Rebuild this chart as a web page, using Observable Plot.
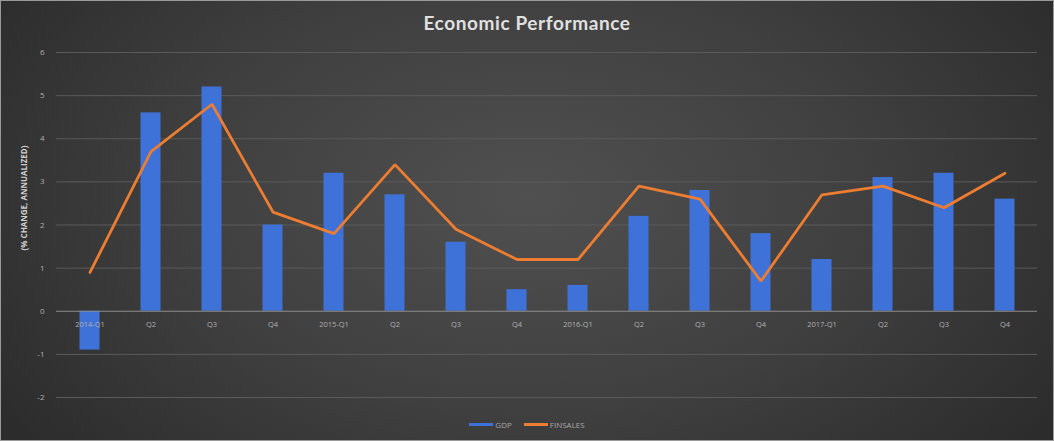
<!DOCTYPE html>
<html>
<head>
<meta charset="utf-8">
<script src="https://cdn.jsdelivr.net/npm/d3@7"></script>
<script src="https://cdn.jsdelivr.net/npm/@observablehq/plot@0.6"></script>
<style>
  html, body { margin: 0; padding: 0; background: #2b2b2b; }
  #chart {
    position: relative; width: 1054px; height: 441px; box-sizing: border-box;
    border: 1px solid #9a9a9a;
    background: radial-gradient(ellipse 60% 90% at 50% 45%, #505050 0%, #3f3f3f 55%, #2c2c2c 100%);
    font-family: "Open Sans", sans-serif; overflow: hidden;
  }
  #title {
    height: 36px; line-height: 44px; text-align: center; color: #e0e0e0;
    font-family: Lato, sans-serif; font-weight: bold; font-size: 19px; letter-spacing: 0.6px;
  }
  #ylabel {
    position: absolute; left: 22px; top: 197px; color: #cfcfcf; font-size: 8px; font-weight: bold;
    transform: translate(-50%, -50%) rotate(-90deg); white-space: nowrap;
  }
  #legend {
    height: 35px; display: flex; justify-content: center; align-items: center; gap: 12px;
    color: #a8a8a8; font-size: 8px;
  }
  .item { display: flex; align-items: center; gap: 2px; }
  .sw { width: 24px; height: 3px; display: inline-block; }
  svg { display: block; }
</style>
</head>
<body>
<div id="chart">
  <div id="title">Economic Performance</div>
  <div id="ylabel">(% CHANGE, ANNUALIZED)</div>
  <div id="plot"></div>
  <div id="legend"></div>
</div>
<script>
const quarters = ["2014-Q1","Q2","Q3","Q4","2015-Q1","Q2","Q3","Q4","2016-Q1","Q2","Q3","Q4","2017-Q1","Q2","Q3","Q4"];
const gdp      = [-0.9, 4.6, 5.2, 2.0, 3.2, 2.7, 1.6, 0.5, 0.6, 2.2, 2.8, 1.8, 1.2, 3.1, 3.2, 2.6];
const finsales = [ 0.9, 3.7, 4.8, 2.3, 1.8, 3.4, 1.9, 1.2, 1.2, 2.9, 2.6, 0.7, 2.7, 2.9, 2.4, 3.2];
const yTicks = [-2, -1, 0, 1, 2, 3, 4, 5, 6];
const seriesNames = ["GDP", "FINSALES"];
const colors = ["#3f72d8", "#ed7d31"];

const rows = quarters.map((q, i) => ({i, q, gdp: gdp[i], fin: finsales[i]}));

const plot = Plot.plot({
  width: 1052,
  height: 370,
  marginTop: 15,
  marginBottom: 10,
  marginLeft: 55,
  marginRight: 16,
  style: {background: "transparent", color: "#b5b5b5", fontFamily: "Open Sans, sans-serif"},
  x: {type: "band", domain: rows.map(d => d.i), padding: 0, axis: null},
  y: {domain: [-2, 6], axis: null},
  marks: [
    Plot.ruleY(yTicks.filter(t => t !== 0), {stroke: "#5a5a5a", strokeWidth: 1}),
    Plot.axisY(yTicks, {tickSize: 0, tickPadding: 12, fontSize: 8, fill: "#b0b0b0", label: null, tickFormat: d => String(d)}),
    Plot.barY(rows, {x: "i", y: "gdp", fill: colors[0], insetLeft: 20.5, insetRight: 20.5}),
    Plot.ruleY([0], {stroke: "#8c8c8c", strokeWidth: 1.2}),
    Plot.text(rows, {x: "i", y: () => 0, text: "q", dy: 13, fontSize: 7.5, fill: "#b0b0b0"}),
    Plot.lineY(rows, {x: "i", y: "fin", stroke: colors[1], strokeWidth: 2.8, strokeLinejoin: "miter"})
  ]
});
document.getElementById("plot").appendChild(plot);

const legend = document.getElementById("legend");
seriesNames.forEach((name, k) => {
  const it = document.createElement("span");
  it.className = "item";
  it.innerHTML = `<span class="sw" style="background:${colors[k]}"></span><span>${name}</span>`;
  legend.appendChild(it);
});
</script>
</body>
</html>
